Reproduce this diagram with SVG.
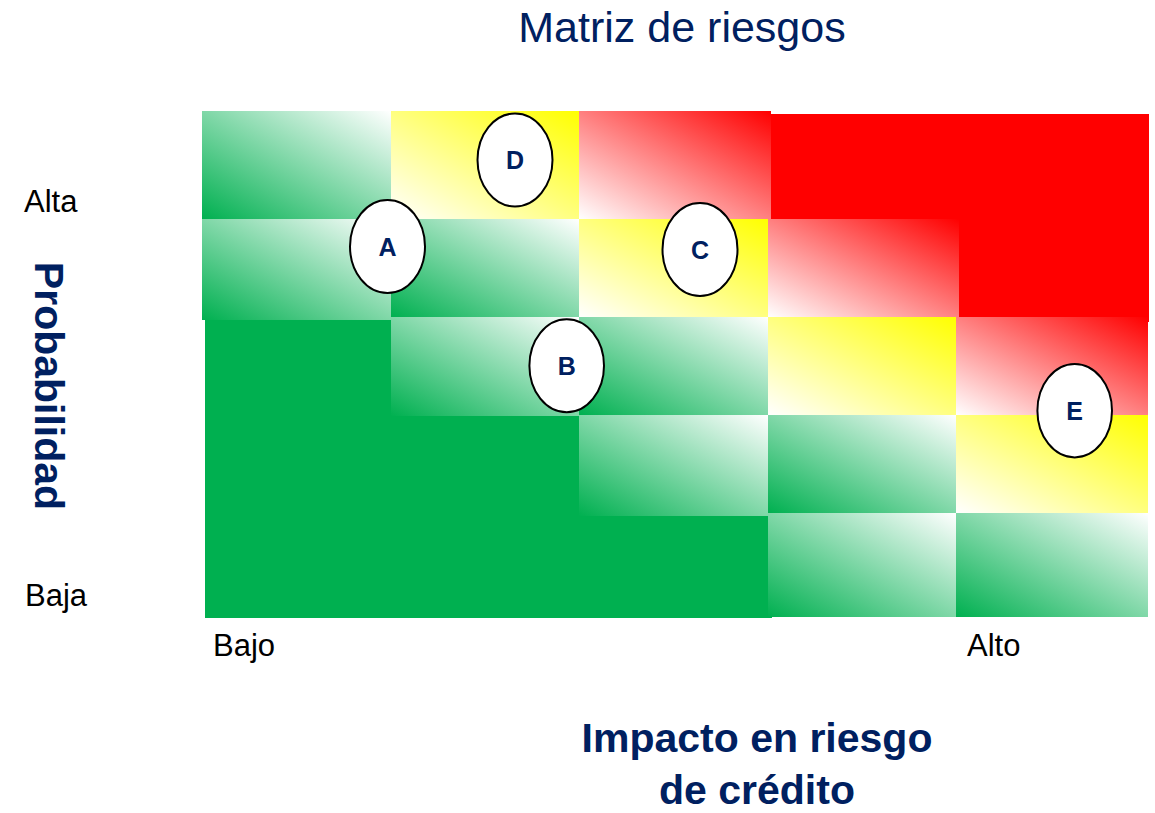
<svg xmlns="http://www.w3.org/2000/svg" width="1155" height="813" viewBox="0 0 1155 813">
  <defs>
    <linearGradient id="gG" x1="0" y1="1" x2="1" y2="0">
      <stop offset="0" stop-color="#00B050"/>
      <stop offset="1" stop-color="#FFFFFF"/>
    </linearGradient>
    <linearGradient id="gY" x1="0" y1="1" x2="1" y2="0">
      <stop offset="0" stop-color="#FFFFFF"/>
      <stop offset="1" stop-color="#FFFF00"/>
    </linearGradient>
    <linearGradient id="gR" x1="0" y1="1" x2="1" y2="0">
      <stop offset="0" stop-color="#FFFFFF"/>
      <stop offset="1" stop-color="#FF0000"/>
    </linearGradient>
  </defs>
  <style>
    .green { fill: url(#gG); }
    .yellow { fill: url(#gY); }
    .red { fill: url(#gR); }
    .node ellipse { fill: #FFFFFF; stroke: #000000; stroke-width: 2; }
    .node text { font-family: "Liberation Sans", Arial, sans-serif; font-weight: bold; font-size: 25px; fill: #002060; text-anchor: middle; }
    .lbl { font-family: "Liberation Sans", Arial, sans-serif; font-size: 31px; fill: #000000; }
    .title { font-family: "Liberation Sans", Arial, sans-serif; font-size: 43px; fill: #002060; text-anchor: middle; }
    .axis { font-family: "Liberation Sans", Arial, sans-serif; font-weight: bold; font-size: 41px; fill: #002060; text-anchor: middle; }
  </style>
  <rect width="1155" height="813" fill="#FFFFFF"/>

  <g id="matrix">
    <rect x="770" y="114" width="379" height="208" fill="#FF0000"/>
    <rect x="205" y="320" width="567" height="298" fill="#00B050"/>
    <!-- row 1 -->
    <rect class="green" x="202" y="111" width="189" height="108"/>
    <rect class="yellow" x="391" y="111" width="188" height="108"/>
    <rect class="red" x="579" y="111" width="192" height="108"/>
    <!-- row 2 -->
    <rect class="green" x="202" y="219" width="189" height="101"/>
    <rect class="green" x="391" y="219" width="188" height="98"/>
    <rect class="yellow" x="579" y="219" width="189" height="98"/>
    <rect class="red" x="768" y="219" width="191" height="98"/>
    <!-- row 3 -->
    <rect class="green" x="391" y="317" width="188" height="99"/>
    <rect class="green" x="579" y="317" width="189" height="98"/>
    <rect class="yellow" x="768" y="317" width="188" height="98"/>
    <rect class="red" x="956" y="317" width="192" height="98"/>
    <!-- row 4 -->
    <rect class="green" x="579" y="415" width="189" height="101"/>
    <rect class="green" x="768" y="415" width="188" height="98"/>
    <rect class="yellow" x="956" y="415" width="192" height="98"/>
    <!-- row 5 -->
    <rect class="green" x="768" y="513" width="188" height="104"/>
    <rect class="green" x="956" y="513" width="192" height="104"/>
  </g>

  <g id="connectors"/>

  <g id="node-D" class="node">
    <ellipse cx="515" cy="160" rx="37.5" ry="46.5"/>
    <text x="515" y="169">D</text>
  </g>
  <g id="node-A" class="node">
    <ellipse cx="387.5" cy="246.5" rx="37.5" ry="46.5"/>
    <text x="387.5" y="255.5">A</text>
  </g>
  <g id="node-C" class="node">
    <ellipse cx="700" cy="249.5" rx="37.5" ry="46.5"/>
    <text x="700" y="258.5">C</text>
  </g>
  <g id="node-B" class="node">
    <ellipse cx="566.7" cy="365.8" rx="37.3" ry="46.5"/>
    <text x="566.7" y="374.8">B</text>
  </g>
  <g id="node-E" class="node">
    <ellipse cx="1074.7" cy="410.7" rx="37.3" ry="46.7"/>
    <text x="1074.7" y="419.5">E</text>
  </g>

  <g id="labels">
    <text class="title" x="682" y="42">Matriz de riesgos</text>
    <text class="lbl" x="24" y="212">Alta</text>
    <text class="lbl" x="25" y="606">Baja</text>
    <text class="lbl" x="213" y="656">Bajo</text>
    <text class="lbl" x="967" y="656">Alto</text>
    <text class="axis" transform="translate(35,386) rotate(90)" x="0" y="0">Probabilidad</text>
    <text class="axis" x="757" y="752">Impacto en riesgo</text>
    <text class="axis" x="757" y="804">de crédito</text>
  </g>
</svg>
